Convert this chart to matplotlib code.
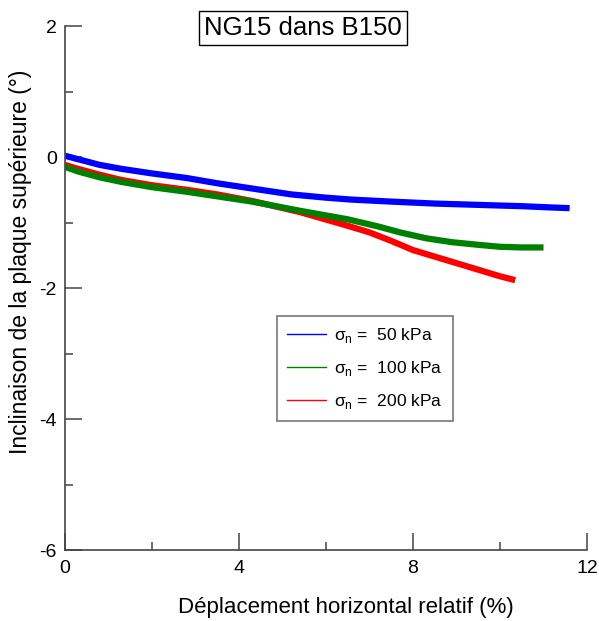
import matplotlib
matplotlib.use("Agg")
import matplotlib.pyplot as plt
from matplotlib.lines import Line2D

plt.rcParams['font.family'] = ['Liberation Sans', 'DejaVu Sans']
plt.rcParams['mathtext.fontset'] = 'custom'
plt.rcParams['mathtext.rm'] = 'Liberation Sans'
plt.rcParams['axes.unicode_minus'] = False

# Data (trend of the noisy curves)
x_50 = [0, 0.4, 0.8, 1.3, 2.0, 2.8, 3.5, 4.3, 5.2, 6.0, 6.6, 7.5, 8.5, 9.5, 10.5, 11.2, 11.6]
y_50 = [0.02, -0.05, -0.12, -0.18, -0.25, -0.32, -0.40, -0.48, -0.57, -0.62, -0.65, -0.68, -0.71, -0.73, -0.75, -0.77, -0.78]

x_100 = [0, 0.3, 0.8, 1.3, 2.0, 2.8, 3.5, 4.3, 5.4, 6.5, 7.2, 7.7, 8.3, 8.9, 9.5, 10.0, 10.5, 11.0]
y_100 = [-0.15, -0.22, -0.31, -0.38, -0.46, -0.53, -0.60, -0.68, -0.82, -0.95, -1.06, -1.15, -1.24, -1.30, -1.34, -1.37, -1.38, -1.38]

x_200 = [0, 0.3, 0.8, 1.3, 2.0, 2.8, 3.5, 4.3, 5.4, 6.5, 7.0, 7.5, 8.0, 8.5, 9.0, 9.6, 10.0, 10.35]
y_200 = [-0.12, -0.18, -0.27, -0.35, -0.43, -0.50, -0.57, -0.67, -0.84, -1.05, -1.15, -1.28, -1.42, -1.52, -1.62, -1.74, -1.82, -1.88]

labels = ["σ$_\\mathregular{n}$ =  50 kPa", "σ$_\\mathregular{n}$ =  100 kPa", "σ$_\\mathregular{n}$ =  200 kPa"]
colors = ["#0000ff", "#008000", "#ff0000"]

fig = plt.figure(figsize=(5.99, 6.21), dpi=100)
ax = fig.add_axes([0.1085, 0.1143, 0.8715, 0.8437])

lw = 4.5
ax.plot(x_200, y_200, color=colors[2], lw=lw, solid_capstyle='butt')
ax.plot(x_100, y_100, color=colors[1], lw=lw, solid_capstyle='butt')
ax.plot(x_50, y_50, color=colors[0], lw=lw, solid_capstyle='butt')

ax.set_xlim(0, 12)
ax.set_ylim(-6, 2)
ax.set_xticks([0, 4, 8, 12])
ax.set_xticks([2, 6, 10], minor=True)
ax.set_yticks([2, 0, -2, -4, -6])
ax.set_yticks([1, -1, -3, -5], minor=True)

for s in ['top', 'right']:
    ax.spines[s].set_visible(False)
for s in ['left', 'bottom']:
    ax.spines[s].set_color('#444444')
    ax.spines[s].set_linewidth(1.2)

ax.tick_params(which='major', direction='in', length=12, width=1.1, color='#444444',
               labelsize=14)
ax.tick_params(which='minor', direction='in', length=6, width=1.1, color='#444444')
ax.tick_params(axis='x', which='major', pad=7)
ax.tick_params(axis='y', which='major', pad=6)

fig.text(0.578, 0.022, "Déplacement horizontal relatif (%)", fontsize=16,
         ha='center', va='center')
fig.text(0.034, 0.578, "Inclinaison de la plaque supérieure (°)", fontsize=16.5,
         ha='center', va='center', rotation=90)

ax.text(0.456, 0.997, "NG15 dans B150", transform=ax.transAxes, fontsize=18.5,
        ha='center', va='center',
        bbox=dict(boxstyle='square,pad=0.2', fc='white', ec='black', lw=1))

handles = [Line2D([], [], color=c, lw=1) for c in colors]
leg = ax.legend(handles, labels, loc='upper left', bbox_to_anchor=(0.406, 0.447),
                borderaxespad=0, fontsize=12.5, frameon=True, fancybox=False,
                edgecolor='#555555', handlelength=2.2, handletextpad=0.5,
                labelspacing=0.8, borderpad=0.6)
leg.get_frame().set_linewidth(1.2)

fig.savefig("out.png", dpi=100)
